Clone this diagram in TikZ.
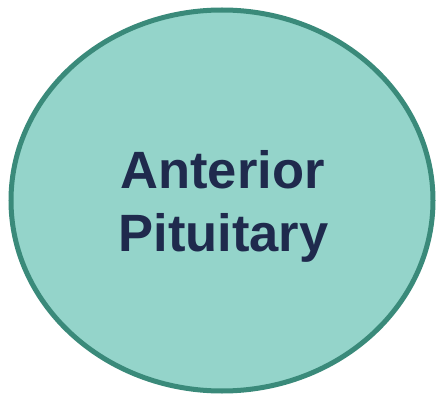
\documentclass[tikz,border=0pt]{standalone}
\usepackage{fontspec}
\setmainfont{Liberation Sans}
\usetikzlibrary{shapes.geometric}
\definecolor{fillteal}{HTML}{94D4CA}
\definecolor{edgeteal}{HTML}{3A8A7A}
\definecolor{navy}{HTML}{1F2A4D}
\begin{document}
\begin{tikzpicture}[x=1pt,y=1pt,
  organ/.style={ellipse, draw=edgeteal, fill=fillteal, line width=5pt, minimum width=422pt, minimum height=381pt, inner sep=0pt, outer sep=0pt},
  label/.style={text=navy, font=\bfseries\fontsize{52.5}{63}\selectfont, anchor=base, inner sep=0pt}]
\useasboundingbox (0,0) rectangle (436,394);
\begin{scope}
\clip (0,0) rectangle (436,394);
\node[organ] (pit) at (222,193.5) {};
\end{scope}
\node[label] (l1) at (222.5,205.7) {Anterior};
\node[label] (l2) at (223.5,142.3) {Pituitary};
\end{tikzpicture}
\end{document}
